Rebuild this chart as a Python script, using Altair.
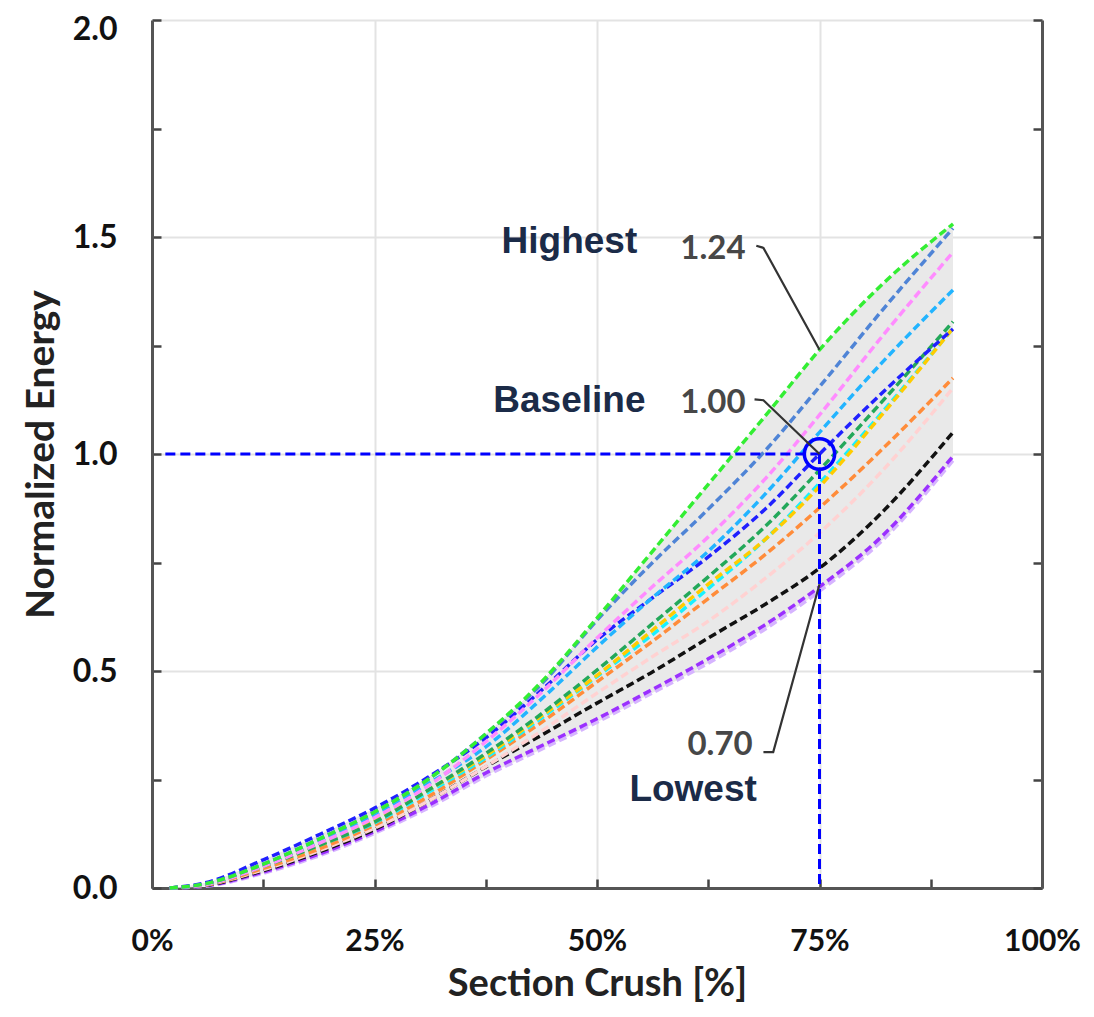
import altair as alt
import pandas as pd

# ---------------- data ----------------
crush = [2, 6, 12.5, 19, 25, 31, 37.5, 44, 50, 56, 62.5, 69, 75, 82, 90]

lime      = [0, 0.010, 0.055, 0.115, 0.175, 0.250, 0.355, 0.480, 0.622, 0.770, 0.930, 1.090, 1.240, 1.390, 1.530]
steelblue = [0, 0.010, 0.055, 0.115, 0.175, 0.250, 0.355, 0.475, 0.617, 0.745, 0.873, 1.010, 1.155, 1.330, 1.520]
violet    = [0, 0.008, 0.050, 0.105, 0.162, 0.235, 0.337, 0.455, 0.576, 0.690, 0.809, 0.945, 1.090, 1.270, 1.465]
skyblue   = [0, 0.009, 0.053, 0.110, 0.168, 0.240, 0.325, 0.440, 0.555, 0.665, 0.776, 0.910, 1.050, 1.210, 1.378]
blue      = [0, 0.012, 0.065, 0.125, 0.184, 0.255, 0.346, 0.460, 0.572, 0.665, 0.763, 0.875, 1.000, 1.140, 1.288]
seagreen  = [0, 0.008, 0.050, 0.100, 0.152, 0.225, 0.310, 0.405, 0.502, 0.605, 0.717, 0.835, 0.963, 1.120, 1.305]
gold      = [0, 0.008, 0.050, 0.100, 0.155, 0.225, 0.305, 0.400, 0.490, 0.590, 0.700, 0.805, 0.925, 1.090, 1.290]
cyan      = [0, 0.008, 0.050, 0.100, 0.150, 0.220, 0.300, 0.395, 0.487, 0.580, 0.690, 0.805, 0.933, 1.095, 1.290]
orange    = [0, 0.007, 0.045, 0.092, 0.145, 0.210, 0.295, 0.385, 0.475, 0.565, 0.667, 0.770, 0.876, 1.010, 1.175]
mistypink = [0, 0.007, 0.042, 0.088, 0.138, 0.200, 0.280, 0.365, 0.449, 0.530, 0.615, 0.715, 0.818, 0.960, 1.152]
black     = [0, 0.006, 0.040, 0.085, 0.135, 0.200, 0.279, 0.355, 0.426, 0.495, 0.576, 0.655, 0.737, 0.865, 1.050]
purple    = [0, 0.005, 0.037, 0.080, 0.130, 0.190, 0.265, 0.330, 0.390, 0.455, 0.528, 0.608, 0.694, 0.810, 0.995]
lavender  = [0, 0.004, 0.034, 0.076, 0.126, 0.184, 0.258, 0.322, 0.382, 0.447, 0.518, 0.598, 0.684, 0.800, 0.985]

series_names = ["lavender", "purple", "black", "mistypink", "orange", "cyan", "gold",
                "seagreen", "blue", "skyblue", "violet", "steelblue", "lime"]
series_values = [lavender, purple, black, mistypink, orange, cyan, gold,
                 seagreen, blue, skyblue, violet, steelblue, lime]
series_colors = ["#d6b4ff", "#9b30ff", "#111111", "#ffd2d2", "#ff8c3a", "#19f0ff", "#ffcc00",
                 "#23a85a", "#2020ff", "#22b4ff", "#ff8cff", "#4f84d6", "#33ee33"]

# annotations
big_labels = ["Highest", "Baseline", "Lowest"]
big_x = [46.9, 46.9, 60.8]
big_y = [1.488, 1.122, 0.226]

num_labels = ["1.24", "1.00", "0.70"]
num_x = [66.7, 66.7, 67.5]
num_y = [1.473, 1.117, 0.330]

leader_ids = ["a", "a", "a", "b", "b", "b", "c", "c", "c"]
leader_ord = [0, 1, 2, 0, 1, 2, 0, 1, 2]
leader_x = [67.9, 68.7, 75.0, 67.7, 68.7, 75.0, 68.7, 69.8, 75.0]
leader_y = [1.480, 1.475, 1.240, 1.126, 1.124, 1.000, 0.313, 0.313, 0.700]

baseline_x = 75.0
baseline_y = 1.0
hline_x0 = 1.5

# ---------------- frames ----------------
rows = []
for name, vals in zip(series_names, series_values):
    for i, (x, v) in enumerate(zip(crush, vals)):
        rows.append({"x": x, "y": v, "s": name, "o": i})
lines_df = pd.DataFrame(rows)

band_df = pd.DataFrame({
    "x": crush,
    "lo": [min(v[i] for v in series_values) for i in range(len(crush))],
    "hi": [max(v[i] for v in series_values) for i in range(len(crush))],
})

big_df = pd.DataFrame({"x": big_x, "y": big_y, "t": big_labels})
num_df = pd.DataFrame({"x": num_x, "y": num_y, "t": num_labels})
lead_df = pd.DataFrame({"x": leader_x, "y": leader_y, "g": leader_ids, "o": leader_ord})
ref_df = pd.DataFrame({
    "x": [hline_x0, baseline_x],
    "x2": [baseline_x, baseline_x],
    "y": [baseline_y, baseline_y],
    "y2": [baseline_y, 0.0],
})
pt_df = pd.DataFrame({"x": [baseline_x], "y": [baseline_y]})

# ---------------- axes ----------------
FONT = "Lato"
x_vals = [0, 12.5, 25, 37.5, 50, 62.5, 75, 87.5, 100]
y_vals = [0, 0.25, 0.5, 0.75, 1.0, 1.25, 1.5, 1.75, 2.0]

x_scale = alt.Scale(domain=[0, 100], nice=False, zero=False)
y_scale = alt.Scale(domain=[0, 2], nice=False)

x_axis = alt.Axis(
    values=x_vals,
    labelExpr="datum.value % 25 === 0 ? datum.value + '%' : ''",
    title="Section Crush [%]",
    grid=True,
    gridColor={"condition": {"test": "datum.value % 25 === 0", "value": "#e3e3e3"}, "value": "transparent"},
    gridWidth=2,
    domainColor="#555555", domainWidth=3,
    tickColor="#444444", tickWidth=2.5, tickSize=alt.ExprRef(expr="-9"),
    labelFont=FONT, labelFontWeight="bold", labelFontSize=30, labelColor="#111111",
    labelPadding=47, labelBaseline="top", labelFlush=False, labelOverlap=False,
    titleFont=FONT, titleFontWeight="bold", titleFontSize=38, titleColor="#222222",
    titlePadding=9,
)

y_axis_left = alt.Axis(
    values=y_vals,
    labelExpr="datum.value % 0.5 === 0 ? format(datum.value, '.1f') : ''",
    title="Normalized Energy",
    grid=True,
    gridColor={"condition": {"test": "datum.value % 0.5 === 0", "value": "#e3e3e3"}, "value": "transparent"},
    gridWidth=2,
    domainColor="#555555", domainWidth=3,
    tickColor="#444444", tickWidth=2.5, tickSize=alt.ExprRef(expr="-9"),
    labelFont=FONT, labelFontWeight="bold", labelFontSize=32, labelColor="#111111",
    labelPadding=44, labelFlush=False, labelOverlap=False,
    labelOffset={"condition": {"test": "datum.value === 2", "value": 9}, "value": 0},
    titleFont=FONT, titleFontWeight="bold", titleFontSize=39, titleColor="#222222",
    titlePadding=11,
)

y_axis_right = alt.Axis(
    orient="right",
    values=y_vals,
    labels=False,
    title=None,
    grid=False,
    domainColor="#555555", domainWidth=3,
    tickColor="#444444", tickWidth=2.5, tickSize=alt.ExprRef(expr="-9"),
)

X = lambda: alt.X("x:Q", scale=x_scale, axis=x_axis)

# ---------------- layers ----------------
band = alt.Chart(band_df).mark_area(color="#e9e9e9", interpolate="monotone").encode(
    x=X(),
    y=alt.Y("lo:Q", scale=y_scale, axis=y_axis_left),
    y2="hi:Q",
)

lines = alt.Chart(lines_df).mark_line(
    strokeWidth=3.5, strokeDash=[8, 4], interpolate="monotone"
).encode(
    x=X(),
    y=alt.Y("y:Q", scale=y_scale, axis=y_axis_right),
    color=alt.Color("s:N", scale=alt.Scale(domain=series_names, range=series_colors), legend=None),
    order="o:Q",
    detail="s:N",
)

refs = alt.Chart(ref_df).mark_rule(color="#0000ff", strokeWidth=3, strokeDash=[10, 5]).encode(
    x=X(),
    x2="x2:Q",
    y=alt.Y("y:Q", scale=y_scale, axis=None),
    y2="y2:Q",
)

circle = alt.Chart(pt_df).mark_point(
    shape="circle", filled=False, size=920, stroke="#0000ff", strokeWidth=3.5, opacity=1
).encode(
    x=X(),
    y=alt.Y("y:Q", scale=y_scale, axis=None),
)

leaders = alt.Chart(lead_df).mark_line(color="#333333", strokeWidth=2.2).encode(
    x=X(),
    y=alt.Y("y:Q", scale=y_scale, axis=None),
    detail="g:N",
    order="o:Q",
)

nums = alt.Chart(num_df).mark_text(
    align="right", baseline="middle", font=FONT, fontWeight="bold", fontSize=33, color="#474747"
).encode(
    x=X(),
    y=alt.Y("y:Q", scale=y_scale, axis=None),
    text="t:N",
)

bigs = alt.Chart(big_df).mark_text(
    align="center", baseline="middle", font="Liberation Sans", fontWeight="bold", fontSize=37,
    color="#1b2b48"
).encode(
    x=X(),
    y=alt.Y("y:Q", scale=y_scale, axis=None),
    text="t:N",
)

chart = alt.layer(band, lines, refs, circle, leaders, nums, bigs).resolve_axis(
    y="independent"
).properties(
    width=890,
    height=868,
    autosize=alt.AutoSizeParams(type="none"),
    padding={"left": 144, "top": 12, "right": 44, "bottom": 116},
).configure_view(stroke=None).configure(background="white")

chart.save("out.html", embed_options={"renderer": "svg", "actions": False})
